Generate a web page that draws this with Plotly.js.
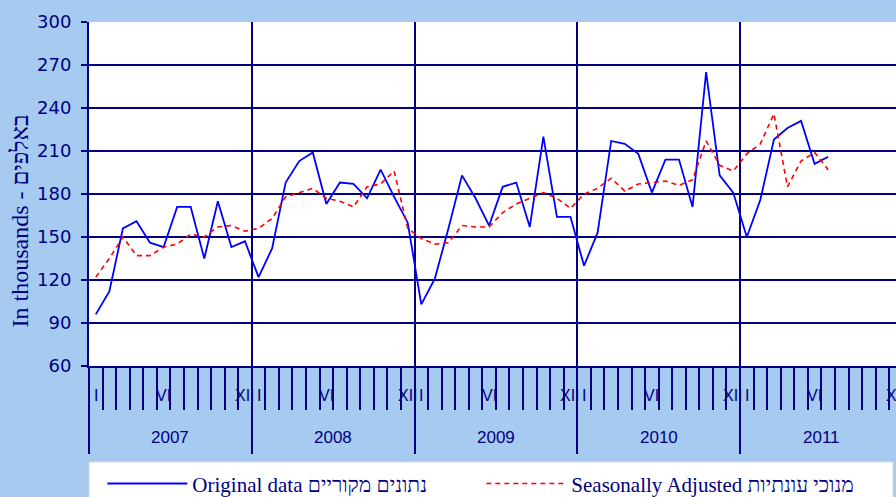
<!DOCTYPE html>
<html>
<head>
<meta charset="utf-8">
<script src="https://cdn.plot.ly/plotly-3.0.1.min.js"></script>
<style>html,body{margin:0;padding:0;background:#A6CAF0;}#chart{width:896px;height:497px;}</style>
</head>
<body>
<div id="chart"></div>
<script>
// ---- data (thousands) ----
const years = ['2007', '2008', '2009', '2010', '2011'];
const monthTickText = ['I', 'VI', 'XII'];
const monthTickIndex = [0, 5, 11];

const original2007 = [96, 112, 156, 161, 146, 143, 171, 171, 135, 175, 143, 147];
const original2008 = [122, 142, 188, 203, 209, 173, 188, 187, 177, 197, 178, 160];
const original2009 = [103, 121, 156, 193, 177, 158, 185, 188, 157, 220, 164, 164];
const original2010 = [130, 153, 217, 215, 208, 181, 204, 204, 171, 265, 193, 181];
const original2011 = [150, 176, 218, 226, 231, 201, 206];

const seasonal2007 = [122, 135, 150, 137, 137, 143, 145, 152, 150, 157, 158, 154];
const seasonal2008 = [156, 163, 178, 181, 184, 177, 175, 171, 185, 187, 196, 156];
const seasonal2009 = [149, 145, 146, 158, 157, 157, 167, 173, 177, 181, 177, 170];
const seasonal2010 = [180, 184, 191, 182, 187, 188, 189, 186, 190, 217, 200, 196];
const seasonal2011 = [208, 215, 236, 185, 203, 209, 197];

const legendOriginal = 'Original data נתונים מקוריים';
const legendSeasonal = 'Seasonally Adjusted מנוכי עונתיות';
const yTitle = 'In thousands - באלפים';

// ---- build ----
const original = [].concat(original2007, original2008, original2009, original2010, original2011);
const seasonal = [].concat(seasonal2007, seasonal2008, seasonal2009, seasonal2010, seasonal2011);
const monthX = original.map((_, i) => i + 0.5);
const seasonalX = seasonal.map((_, i) => i + 0.5);

const navy = '#000080';
const nMonths = years.length * 12;
const monthBounds = [];
for (let i = 0; i < nMonths; i++) monthBounds.push(i);
const yearBounds = years.map((_, i) => i * 12);

const annotations = [];
years.forEach((yr, yi) => {
  monthTickIndex.forEach((m, k) => {
    annotations.push({
      x: yi * 12 + m + 0.5, xref: 'x', y: -0.087, yref: 'paper',
      text: monthTickText[k], showarrow: false, xanchor: 'center', yanchor: 'middle',
      font: {family: 'Liberation Sans', size: 16, color: navy}
    });
  });
  annotations.push({
    x: yi * 12 + 6, xref: 'x', y: -0.209, yref: 'paper',
    text: yr, showarrow: false, xanchor: 'center', yanchor: 'middle',
    font: {family: 'Liberation Sans', size: 17, color: navy}
  });
});
annotations.push({
  x: -0.0855, xref: 'paper', y: 0.42, yref: 'paper', text: yTitle, textangle: -90,
  showarrow: false, xanchor: 'center', yanchor: 'middle',
  font: {family: 'Liberation Serif', size: 24, color: navy}
});

const traces = [
  {x: monthX, y: original, type: 'scatter', mode: 'lines', name: legendOriginal,
   line: {color: '#0000FF', width: 1.8}},
  {x: seasonalX, y: seasonal, type: 'scatter', mode: 'lines', name: legendSeasonal,
   line: {color: '#FF0000', width: 1.6, dash: '5px,4px'}}
];

const layout = {
  width: 896, height: 497,
  margin: {l: 89, r: 0, t: 22, b: 131, autoexpand: false},
  paper_bgcolor: '#A6CAF0',
  plot_bgcolor: '#FFFFFF',
  showlegend: true,
  xaxis: {
    range: [0, nMonths - 0.5], tickmode: 'array', tickvals: yearBounds, showticklabels: false,
    ticks: 'outside', ticklen: 86, tickwidth: 2, tickcolor: navy,
    showgrid: true, gridcolor: navy, gridwidth: 2,
    showline: true, linecolor: navy, linewidth: 2, zeroline: false,
    minor: {tickmode: 'array', tickvals: monthBounds, ticks: 'outside', ticklen: 42,
            tickwidth: 2, tickcolor: navy, showgrid: false}
  },
  yaxis: {
    range: [60, 300], tickmode: 'linear', tick0: 60, dtick: 30,
    ticks: 'outside', ticklen: 6, tickwidth: 2, tickcolor: navy,
    showgrid: true, gridcolor: navy, gridwidth: 2,
    showline: true, linecolor: navy, linewidth: 2, zeroline: false,
    tickfont: {family: 'DejaVu Sans', size: 18, color: navy},
    ticklabelstandoff: 6
  },
  shapes: [{
    type: 'rect', xref: 'paper', yref: 'paper', x0: 0, x1: 0.9963, y0: -0.279, y1: -0.6,
    fillcolor: '#FFFFFF', line: {color: '#D8D8D8', width: 1}, layer: 'above'
  }],
  legend: {
    orientation: 'h', x: 0.0165, xanchor: 'left', y: -0.283, yanchor: 'top',
    bgcolor: 'rgba(0,0,0,0)', borderwidth: 0,
    font: {family: 'Liberation Serif', size: 21, color: navy},
    entrywidth: 284, entrywidthmode: 'pixels', itemwidth: 80
  },
  annotations: annotations
};

Plotly.newPlot('chart', traces, layout, {displayModeBar: false, staticPlot: true});
</script>
</body>
</html>
